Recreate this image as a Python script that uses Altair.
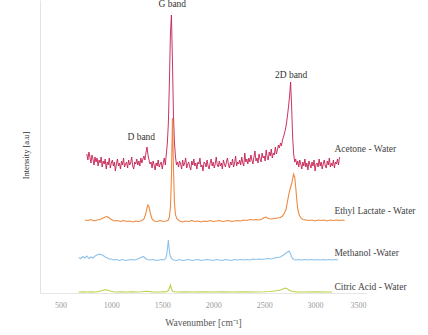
import altair as alt
import pandas as pd

# ---------------- data (intensity in arbitrary units) ----------------
# Acetone - Water : sampled every 10 cm-1 starting at 760 cm-1
acetone_start = 760
acetone_step = 10
acetone_int = [
    139, 133, 141, 136, 130, 138, 134, 128, 136, 131,
    135, 127, 133, 130, 136, 126, 132, 129, 134, 124,
    131, 128, 135, 125, 130, 133, 127, 131, 122, 129,
    134, 127, 130, 124, 132, 128, 135, 126, 129, 131,
    125, 133, 128, 130, 136, 127, 124, 131, 129, 134,
    128, 132, 127, 135, 130, 134, 137, 133, 140, 146,
    138, 133, 129, 131, 125, 132, 128, 123, 130, 127,
    133, 126, 129, 131, 124, 130, 135, 128, 139, 150,
    170, 210, 258, 278, 232, 178, 150, 136, 128, 131,
    126, 132, 129, 124, 133, 127, 130, 135, 125, 129,
    131, 126, 123, 132, 128, 134, 127, 130, 124, 131,
    129, 135, 126, 128, 122, 131, 130, 126, 133, 127,
    124, 130, 134, 127, 131, 125, 129, 136, 128, 126,
    132, 127, 130, 124, 133, 129, 126, 131, 135, 128,
    125, 131, 128, 134, 126, 130, 137, 127, 131, 129,
    133, 128, 136, 130, 127, 140, 131, 134, 129, 135,
    131, 138, 133, 129, 136, 142, 132, 135, 130, 139,
    134, 131, 140, 135, 137, 132, 143, 136, 133, 141,
    137, 144, 135, 140, 138, 146, 139, 143, 148, 145,
    150, 147, 153, 156, 160, 164, 170, 178, 187, 197,
    211, 186, 156, 139, 131, 134, 128, 132, 126, 133,
    129, 124, 131, 127, 134, 126, 130, 123, 132, 128,
    125, 131, 127, 133, 122, 129, 130, 126, 134, 127,
    131, 124, 129, 133, 127, 125, 132, 128, 135, 126,
    130, 127, 133, 125, 131, 129, 134, 128, 136,
]

ethyl_wn = [740, 770, 800, 830, 860, 890, 920, 940, 960, 980, 1000, 1030, 1060, 1090,
            1120, 1150, 1180, 1210, 1240, 1270, 1300, 1320, 1335, 1350, 1360, 1370,
            1385, 1400, 1420, 1450, 1480, 1510, 1540, 1560, 1570, 1580, 1590, 1600,
            1610, 1620, 1630, 1645, 1670, 1700, 1730, 1760, 1790, 1820, 1850, 1880,
            1910, 1940, 1970, 2000, 2030, 2060, 2090, 2120, 2150, 2180, 2210, 2240,
            2270, 2300, 2330, 2360, 2390, 2420, 2450, 2480, 2500, 2520, 2540, 2570,
            2600, 2630, 2660, 2680, 2700, 2716, 2730, 2745, 2760, 2770, 2780, 2790,
            2800, 2810, 2820, 2830, 2845, 2860, 2880, 2910, 2940, 2970, 3000, 3030,
            3060, 3090, 3120, 3150, 3180, 3210, 3240, 3270, 3290]
ethyl_int = [73, 72.5, 73.5, 72, 73, 73.5, 75, 76, 76.5, 75, 73.5, 72, 72.5, 71.5,
             72.5, 71.5, 72, 71, 72, 71.5, 72.5, 74, 78, 85, 88, 86,
             79, 74, 72, 71.5, 72.5, 71.5, 72, 73, 76, 85, 115, 175,
             125, 90, 78, 74, 72, 71, 72, 71.5, 72.5, 71.5, 72, 71,
             72, 71.5, 72.5, 71.5, 72, 72.5, 71.5, 72, 72.5, 71.5, 72, 72.5,
             72, 73, 72.5, 73.5, 73, 73.5, 73, 74, 75.5, 76, 74.5, 74,
             74.5, 75, 75.5, 77, 80, 84, 92, 100, 106, 109, 114, 119,
             116, 106, 94, 84, 78, 75, 73.5, 73, 72.5, 73, 72, 73,
             72.5, 73, 72, 73, 72.5, 73, 72.5, 73, 72.5]

methanol_wn = [680, 700, 720, 740, 760, 780, 800, 820, 840, 860, 880, 900, 920, 940,
               960, 980, 1000, 1020, 1050, 1080, 1110, 1140, 1170, 1200, 1230, 1260,
               1280, 1300, 1315, 1330, 1350, 1380, 1410, 1440, 1470, 1500, 1520, 1535,
               1545, 1555, 1560, 1565, 1575, 1590, 1610, 1640, 1670, 1700, 1730, 1760,
               1790, 1820, 1850, 1880, 1910, 1940, 1970, 2000, 2030, 2060, 2090, 2120,
               2150, 2180, 2210, 2240, 2270, 2300, 2330, 2360, 2390, 2420, 2450, 2480,
               2510, 2540, 2570, 2600, 2630, 2660, 2690, 2710, 2730, 2745, 2760, 2775,
               2790, 2810, 2840, 2870, 2900, 2930, 2960, 2990, 3020, 3050, 3080, 3110,
               3140, 3170, 3200, 3225]
methanol_int = [35.5, 34.5, 36.5, 35, 37, 34.5, 36, 35, 37, 38, 39, 38.5, 37.5, 36,
                35, 34, 34, 33, 33.5, 32.5, 33.5, 32.5, 33, 33.5, 33, 34,
                35, 36, 36.5, 35, 33.5, 33, 33.5, 32.5, 33, 33.5, 33, 35,
                39, 48, 53, 47, 38, 34.5, 33, 32.5, 33.5, 32.5, 33, 33.5,
                32.5, 33, 33.5, 32.5, 33, 33.5, 33, 32.5, 33.5, 33, 32.5, 33.5,
                33, 32.5, 33.5, 33, 33.5, 33, 33.5, 33, 34, 33.5, 34, 33.5,
                34, 34.5, 34, 35, 35.5, 36, 38, 39.5, 41, 42, 39, 35,
                33.5, 33, 33.5, 33, 33.5, 33, 33.5, 33, 33.5, 33, 33.5, 33,
                33.5, 33, 33.5, 33]

citric_wn = [680, 720, 760, 800, 840, 880, 910, 940, 960, 990, 1020, 1060, 1100, 1150,
             1200, 1250, 1300, 1340, 1370, 1400, 1450, 1500, 1540, 1560, 1570, 1580,
             1590, 1600, 1620, 1660, 1720, 1800, 1900, 2000, 2100, 2200, 2300, 2400,
             2500, 2560, 2620, 2660, 2690, 2710, 2730, 2750, 2780, 2820, 2900, 3000,
             3100, 3170]
citric_int = [1, 1.2, 1, 1.1, 1, 1.5, 2.5, 3.2, 3, 2, 1.2, 1, 1.1, 1,
              1.1, 1, 1.3, 1.8, 1.5, 1.1, 1, 1.1, 1.3, 2.5, 5, 8,
              4, 2, 1.2, 1, 1.1, 1, 1.1, 1, 1.1, 1, 1.1, 1,
              1.2, 1.5, 2.2, 3, 4.2, 5, 4, 2.5, 1.5, 1.1, 1, 1.1,
              1, 1]

series_names = ["Citric Acid - Water", "Methanol -Water", "Ethyl Lactate - Water", "Acetone - Water"]
series_colors = ["#b7d44a", "#8cc2ec", "#ee8a42", "#c41e4f"]

x_ticks = [500, 1000, 1500, 2000, 2500, 3000, 3500]

band_text = ["G band", "D band", "2D band"]
band_wn = [1598, 1294, 2765]
band_y = [289, 156, 218]

label_wn = [3190, 3190, 3190, 3190]
label_y = [6, 40, 82, 144]

# ---------------- build tables ----------------
acetone_wn = [acetone_start + acetone_step * i for i in range(len(acetone_int))]
series_data = {
    "Citric Acid - Water": (citric_wn, citric_int),
    "Methanol -Water": (methanol_wn, methanol_int),
    "Ethyl Lactate - Water": (ethyl_wn, ethyl_int),
    "Acetone - Water": (acetone_wn, acetone_int),
}

FONT = "Liberation Serif"

x_enc = alt.X(
    "wn:Q",
    scale=alt.Scale(domain=[300, 3500], nice=False, zero=False),
    axis=alt.Axis(
        values=x_ticks, format="d", title="Wavenumber [cm⁻¹]", ticks=False, grid=False,
        labelFontSize=8, labelColor="#9a9a9a", labelPadding=8, labelFont=FONT,
        domainColor="#e6e6e6", titleFont=FONT, titleFontSize=9.5,
        titleColor="#555555", titleFontWeight="normal", titlePadding=8,
    ),
)
y_enc = alt.Y(
    "intensity:Q",
    scale=alt.Scale(domain=[0, 293], nice=False, zero=False),
    axis=alt.Axis(
        labels=False, ticks=False, grid=False, title="Intensity [a.u]",
        domainColor="#e3e3e3", titleFont=FONT, titleFontSize=8.5,
        titleColor="#333333", titleFontWeight="normal",
        titleAngle=270, titleX=-15, titleY=155, titleAlign="center",
        titleBaseline="middle",
    ),
)

layers = []
for name, color in zip(series_names, series_colors):
    wns, vals = series_data[name]
    df = pd.DataFrame({"wn": wns, "intensity": vals})
    layers.append(
        alt.Chart(df).mark_line(color=color, strokeWidth=1.1 if name != "Acetone - Water" else 0.9)
        .encode(x=x_enc, y=y_enc)
    )

band_df = pd.DataFrame({"wn": band_wn, "intensity": band_y, "text": band_text})
layers.append(
    alt.Chart(band_df).mark_text(font=FONT, fontSize=9.5, color="#333333",
                                 align="center", baseline="middle")
    .encode(x="wn:Q", y="intensity:Q", text="text:N")
)

label_df = pd.DataFrame({"wn": label_wn, "intensity": label_y, "text": series_names})
layers.append(
    alt.Chart(label_df).mark_text(font=FONT, fontSize=9.5, color="#444444",
                                  align="left", baseline="middle")
    .encode(x="wn:Q", y="intensity:Q", text="text:N")
)

chart = (
    alt.layer(*layers)
    .properties(
        width=326, height=293,
        autosize=alt.AutoSizeParams(type="none"),
        padding={"left": 40, "top": 0, "right": 62, "bottom": 42},
        background="white",
    )
    .configure_view(stroke=None)
)

chart.save("out.html", embed_options={"renderer": "svg", "actions": False})
